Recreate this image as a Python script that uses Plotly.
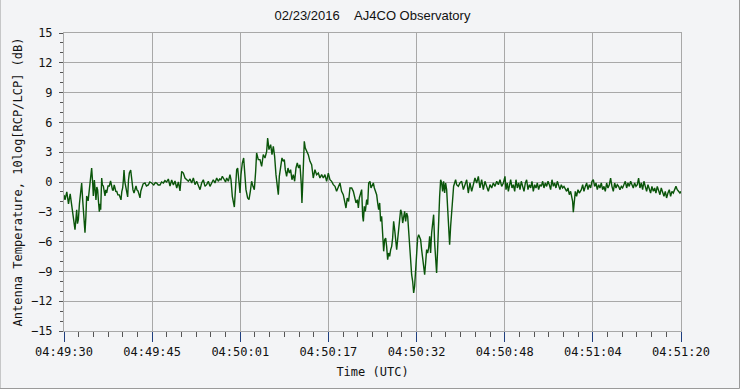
import plotly.graph_objects as go
import numpy as np

# Time offset in seconds from 04:49:30 UTC
t_sec = [
    0.0, 0.18, 0.5, 0.8, 1.1, 1.37, 1.7, 1.96, 2.1, 2.26, 2.4, 2.56, 2.75, 2.97, 3.15, 3.33, 3.5, 3.74, 3.9, 4.04,
    4.3, 4.52, 4.7, 4.93, 5.1, 5.23, 5.41, 5.55, 5.7, 5.85, 6.0, 6.15, 6.3, 6.45, 6.54, 6.72, 6.85, 7.01, 7.15, 7.31,
    7.45, 7.61, 7.85, 8.08, 8.3, 8.5, 8.65, 8.8, 8.95, 9.09, 9.25, 9.39, 9.6, 9.86, 10.0, 10.16, 10.3, 10.46, 10.6, 10.7,
    10.85, 11.05, 11.2, 11.35, 11.5, 11.65, 11.89, 12.0, 12.12, 12.3, 12.48, 12.65, 12.84, 13.0, 13.19, 13.35, 13.55, 13.7, 13.85, 14.1,
    14.44, 14.7, 15.03, 15.3, 15.63, 16.0, 16.3, 16.52, 16.8, 17.11, 17.4, 17.71, 18.0,
    18.3, 18.6, 18.9, 19.2, 19.5, 19.79, 20.1, 20.39, 20.68, 20.98, 21.28, 21.57, 21.87, 22.17, 22.47, 22.76, 23.06, 23.36, 23.65, 23.95,
    24.25, 24.54, 24.84, 25.14, 25.43, 25.73, 26.03, 26.33, 26.62, 26.92, 27.22, 27.51, 27.75, 27.99, 28.23, 28.58, 28.8, 29.0, 29.3, 29.59,
    29.77, 30.01, 30.19, 30.37, 30.6, 30.78, 30.96, 31.2, 31.38, 31.55, 31.79, 32.03, 32.27, 32.44, 32.74, 32.98, 33.22, 33.45, 33.69, 33.93,
    34.17, 34.34, 34.64,
    34.94, 35.24, 35.53, 35.83, 36.13, 36.31, 36.54, 36.84, 37.08, 37.32, 37.55, 37.79, 38.03, 38.21, 38.39, 38.62, 38.86, 39.1, 39.28, 39.45,
    39.69, 39.93, 40.17, 40.4, 40.64, 40.88, 41.12, 41.36, 41.59, 41.83, 42.07, 42.31, 42.42, 42.54, 42.66, 42.84, 43.02, 43.26, 43.55, 43.85,
    44.15, 44.44, 44.74, 45.04, 45.34, 45.63, 45.93, 46.23, 46.52, 46.82, 47.12, 47.41, 47.71, 48.01, 48.31, 48.6, 48.9, 49.2, 49.49, 49.79,
    50.09, 50.27, 50.5, 50.74, 50.98,
    51.29, 51.58, 51.88, 52.06, 52.3, 52.48, 52.65, 52.89, 53.07, 53.25, 53.37, 53.54, 53.72, 53.96, 54.14, 54.32, 54.55, 54.73, 54.91, 55.15,
    55.33, 55.5, 55.74, 55.92, 56.1, 56.28, 56.45, 56.63, 56.81, 56.99, 57.17, 57.35, 57.52, 57.7, 57.88, 58.06, 58.24, 58.42, 58.59, 58.77,
    58.95, 59.13, 59.31, 59.48, 59.66, 59.84, 60.02, 60.2, 60.38, 60.55, 60.73, 60.91, 61.09, 61.27, 61.44, 61.62, 61.8, 61.98, 62.16, 62.34,
    62.51, 62.69, 62.87, 63.05, 63.23, 63.4, 63.58, 63.76, 63.94, 64.12, 64.3, 64.47, 64.65, 64.83, 65.01, 65.19, 65.36, 65.54, 65.72, 65.9,
    66.08, 66.26, 66.43, 66.61, 66.79, 66.97, 67.15, 67.33, 67.5, 67.68, 67.86, 68.04, 68.22, 68.39, 68.57, 68.75, 68.93, 69.11, 69.29, 69.46,
    69.64, 69.82, 70.0, 70.3, 70.59,
    70.9, 71.2, 71.49, 71.79, 72.08, 72.38, 72.68, 72.97, 73.27, 73.57, 73.87, 74.16, 74.46, 74.76, 75.05, 75.35, 75.65,
    75.95, 76.25, 76.54, 76.84, 77.14, 77.44, 77.73, 78.03, 78.33, 78.62, 78.8, 79.04, 79.22, 79.4, 79.63, 79.87, 80.11, 80.35, 80.58, 80.82,
    81.06, 81.3, 81.53, 81.77, 82.01, 82.25, 82.48, 82.72, 82.96, 83.2, 83.43, 83.67, 83.91, 84.15, 84.38, 84.62, 84.86, 85.1, 85.34, 85.57,
    85.81, 86.05, 86.29, 86.52, 86.76, 87.0, 87.24, 87.47, 87.71, 87.95, 88.19, 88.42, 88.66, 88.9, 89.14, 89.37, 89.61, 89.85, 90.09, 90.32,
    90.5, 90.68, 90.8, 90.98, 91.16, 91.39, 91.63, 91.87,
    92.23, 92.47, 92.7, 92.94, 93.18, 93.42, 93.65, 93.89, 94.13, 94.37, 94.6, 94.84, 95.08, 95.32, 95.55, 95.79, 96.03, 96.27, 96.5, 96.74,
    96.98, 97.22, 97.45, 97.69, 97.93, 98.17, 98.41, 98.64, 98.88, 99.12, 99.36, 99.59, 99.83, 100.07, 100.31, 100.54, 100.78, 101.02, 101.26, 101.49,
    101.73, 101.97, 102.21, 102.44, 102.68, 102.92, 103.16, 103.39, 103.63, 103.87, 104.11, 104.35, 104.58, 104.82, 105.06, 105.3, 105.53, 105.77, 106.01, 106.25,
    106.48, 106.72, 106.96, 107.2, 107.43, 107.67, 107.91, 108.15, 108.38, 108.62, 108.86, 109.1, 109.33, 109.57, 109.81, 110.0,
]

# Antenna temperature ratio, 10log[RCP/LCP] (dB)
ant_db = [
    -1.3, -1.8, -1.0, -2.2, -1.2, -2.4, -3.5, -4.8, -3.9, -2.8, -4.2, -3.8, -2.2, -1.1, -0.1, -1.8, -3.2, -5.1, -3.5, -1.4,
    -1.9, -0.6, -0.2, 1.4, 0.0, -1.4, 0.2, -1.0, -1.8, -0.5, -0.8, -2.0, -3.0, -2.2, -2.8, 0.4, -0.3, -0.4, -1.2, -1.4,
    -0.8, -1.1, -0.4, -0.4, 0.1, -0.3, -0.8, -0.8, -0.3, -0.6, -1.0, -0.9, -1.3, -1.3, -1.5, -1.8, -1.0, -0.6, 0.3, 1.2,
    0.0, -0.8, -1.1, -1.5, 0.2, 0.9, 1.2, 0.5, -0.1, -0.8, -1.1, -0.6, -0.4, -0.8, -0.9, -1.2, -1.6, -0.9, -0.6, -0.2,
    -0.1, -0.4, -0.3, 0.0, -0.1, -0.3, -0.05, -0.1, -0.3, -0.3, 0.0, -0.1, 0.15,
    0.0, 0.3, -0.4, 0.2, -0.3, 0.1, -0.6, 0.0, -0.9, 1.07, 0.9, 0.4, 0.2, 0.07, 0.3, -0.1, 0.4, -0.27, 0.07, -0.44,
    -0.77, -0.1, 0.23, -0.44, -0.27, 0.07, -0.44, -0.1, 0.23, -0.1, 0.4, 0.07, 0.3, 0.23, 0.57, 0.23, 0.0, 0.4, 0.07, 0.74,
    0.23, -1.44, -2.28, -2.52, -0.44, 1.24, 1.41, -0.27, -1.11, 0.74, 1.91, 2.42, 0.9, -0.77, -1.61, -1.78, -0.94, 0.07, -0.44, -0.77,
    1.07, 2.92, 2.25,
    2.25, 1.58, 2.75, 2.42, 3.09, 4.43, 3.26, 3.76, 2.75, 3.59, 2.58, 0.74, -0.94, -1.28, 0.57, 1.58, 2.42, 2.08, 2.25, 1.24,
    0.57, 1.41, 0.9, 1.24, 0.23, 0.74, 0.07, 1.41, 1.91, 1.41, 1.74, -0.27, -2.11, -0.44, 2.58, 4.09, 3.42, 3.09, 2.75, 2.08,
    1.74, 0.4, 1.24, 0.74, 0.9, 0.4, 0.74, 0.4, 0.74, 0.07, 0.9, 0.23, 0.07, -0.27, -0.44, -0.94, -0.44, -0.1, -0.94, -1.28,
    -2.11, -2.62, -1.61, -1.95, -0.6,
    -0.6, -0.94, -1.61, -2.11, -1.78, -2.62, -1.61, -1.11, -0.77, -3.46, -3.96, -2.45, -2.95, -1.78, -2.28, -0.1, 0.07, -0.6, -0.44, -0.1,
    -0.6, -0.94, -1.28, -2.11, -2.79, -2.11, -3.96, -3.46, -5.47, -6.98, -5.81, -5.64, -6.48, -7.82, -7.15, -7.48, -6.81, -6.48, -5.64, -3.96,
    -4.8, -6.14, -6.81, -5.81, -4.3, -3.79, -2.79, -3.12, -4.13, -3.46, -2.95, -3.96, -3.12, -3.46, -5.13, -6.81, -7.82, -9.33, -10.0, -11.17,
    -10.5, -8.83, -6.81, -5.64, -5.3, -5.64, -5.81, -6.81, -7.82, -8.83, -9.33, -8.15, -6.81, -7.15, -6.64, -5.47, -7.15, -5.13, -4.13, -3.29,
    -6.14, -7.82, -9.16, -6.81, -3.46, -1.44, 0.23, -0.1, -0.94, 0.07, -1.11, -0.1, -0.77, -2.28, -3.79, -6.31, -4.46, -2.79, -1.11, -0.44,
    -0.1, 0.23, -0.27, -0.44, -0.1,
    0.07, -0.77, -0.27, 0.23, -1.11, -0.1, -0.94, -0.27, 0.4, -0.1, 0.57, -0.6, 0.23, -0.77, 0.07, -0.44, -0.94,
    -0.27, -0.6, -0.1, -0.44, 0.07, -0.27, 0.23, -0.44, -0.1, 0.57, -0.77, -0.1, -0.94, -0.44, 0.23, -0.6, -0.27, -0.94, 0.23, -0.6,
    -0.1, -0.77, 0.07, -0.44, -0.94, -0.1, 0.23, -0.77, -0.27, -0.6, 0.07, -0.94, -0.27, -0.6, -0.1, -0.77, -0.27, -0.44, 0.07, -0.6,
    -0.1, -0.44, 0.07, -0.27, -0.77, 0.23, -0.44, -0.1, -0.6, 0.07, -0.44, -0.77, -0.27, -0.6, -0.44, -0.77, -0.94, -0.6, -1.28, -0.94,
    -1.61, -1.95, -3.05, -1.78, -0.94, -1.44, -0.77, -1.11,
    -0.77, -0.27, -0.94, -0.44, -0.1, -0.77, -0.27, -0.6, 0.07, 0.23, -0.44, -0.1, -0.77, -0.27, -0.6, -0.1, -0.77, -0.44, -0.94, -0.1,
    -0.6, -0.27, 0.4, -0.44, -0.94, -0.1, -0.6, -0.27, -0.44, -0.77, -0.44, -0.6, -0.27, 0.07, -0.6, -0.1, -0.44, 0.07, -0.27, -0.6,
    -0.1, -0.44, -0.27, 0.4, -0.6, -0.1, -0.77, 0.07, -0.44, -0.94, -0.27, -0.77, -1.11, -0.44, -0.94, -0.6, -1.11, -0.44, -0.94, -1.28,
    -0.6, -1.11, -1.44, -0.94, -1.61, -1.11, -0.77, -1.44, -0.94, -1.11, -0.77, -0.44, -0.77, -0.94, -1.11, -0.94,
]

x_tick_labels = ["04:49:30", "04:49:45", "04:50:01", "04:50:17",
                 "04:50:32", "04:50:48", "04:51:04", "04:51:20"]
y_ticks = [-15, -12, -9, -6, -3, 0, 3, 6, 9, 12, 15]

span = 110.0
x_tick_vals = list(np.linspace(0, span, len(x_tick_labels)))

BG = "#F3F4F6"
GRID = "#A8A8A8"
MONO = "DejaVu Sans Mono"

fig = go.Figure()
fig.add_trace(go.Scatter(
    x=t_sec, y=ant_db, mode="lines",
    line=dict(color="#0A550A", width=1.4),
    hoverinfo="skip", showlegend=False,
))

fig.update_layout(
    width=740, height=389,
    margin=dict(l=64, r=59, t=33, b=58),
    paper_bgcolor=BG, plot_bgcolor=BG,
    title=dict(text="02/23/2016    AJ4CO Observatory".replace("    ", "&nbsp;&nbsp;&nbsp;&nbsp;"),
               x=0.5, xref="paper", y=1, yref="container", yanchor="top", pad=dict(t=11),
               font=dict(family="Liberation Sans", size=13, color="#111")),
    font=dict(family=MONO, size=12, color="#111"),
    xaxis=dict(
        range=[0, span], tickmode="array", tickvals=x_tick_vals, ticktext=x_tick_labels,
        showgrid=True, gridcolor=GRID, gridwidth=1,
        showline=True, linecolor=GRID, linewidth=1, mirror=True,
        ticks="outside", ticklen=10, tickcolor="#1F3F7F", tickwidth=1,
        minor=dict(ticks="outside", ticklen=5, tickcolor="#555", tick0=0, dtick=span / 42, showgrid=False),
        zeroline=False,
        title=dict(text="Time (UTC)", standoff=9, font=dict(family=MONO, size=12)),
        tickfont=dict(family=MONO, size=12),
    ),
    yaxis=dict(
        range=[-15, 15], tickmode="array", tickvals=y_ticks,
        showgrid=True, gridcolor=GRID, gridwidth=1,
        showline=True, linecolor=GRID, linewidth=1, mirror=True,
        ticks="outside", ticklen=4, tickcolor="#555", tickwidth=1,
        minor=dict(ticks="outside", ticklen=3, tickcolor="#555", tick0=0, dtick=1, showgrid=False),
        zeroline=False, ticklabelstandoff=4,
        title=dict(text="Antenna Temperature, 10log[RCP/LCP] (dB)", standoff=5, font=dict(family=MONO, size=12)),
        tickfont=dict(family=MONO, size=12),
    ),
    shapes=[dict(type="rect", xref="paper", yref="paper",
                 x0=-64 / 617, x1=675.5 / 617, y0=-57.5 / 298, y1=331.5 / 298,
                 line=dict(color="#9A9A9A", width=1), fillcolor="rgba(0,0,0,0)", layer="below")],
)

fig.write_html("out.html")
